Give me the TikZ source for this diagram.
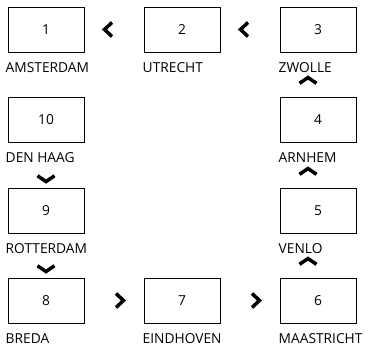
\documentclass[tikz,border=0pt]{standalone}
\usepackage{fontspec}
\setmainfont{Open Sans}
\usepackage{tikz}
\usetikzlibrary{calc, positioning}

\tikzset{
  stop/.style={draw, line width=0.9bp, minimum width=76bp, minimum height=45bp, inner sep=0pt},
  city/.style={anchor=base west, inner sep=0pt},
  chevline/.style={line width=3.5bp, line join=miter, line cap=butt},
  pics/chevh/.style={code={\draw[chevline] (-4,-7) -- (3.5,0) -- (-4,7);}},
  pics/chevv/.style={code={\draw[chevline] (-8.5,2.8) -- (0,-3) -- (8.5,2.8);}}
}

\begin{document}
\begin{tikzpicture}[x=1bp, y=-1bp, font=\fontsize{13.8}{16}\selectfont]
  \useasboundingbox (0,0) rectangle (368,347);

  % Stops along the route
  \node[stop] (b1) at (46,29.5) {1};
  \node[stop] (b2) at (182,29.5) {2};
  \node[stop] (b3) at (318,29.5) {3};
  \node[stop] (b10) at (46,119.5) {10};
  \node[stop] (b4) at (318,119.5) {4};
  \node[stop] (b9) at (46,210.5) {9};
  \node[stop] (b5) at (318,210.5) {5};
  \node[stop] (b8) at (46,300.5) {8};
  \node[stop] (b7) at (182,300.5) {7};
  \node[stop] (b6) at (318,300.5) {6};

  % City names under the boxes
  \node[city] (c1) at ($(b1.south west)+(-2,20)$) {AMSTERDAM};
  \node[city] (c2) at ($(b2.south west)+(-1,20)$) {UTRECHT};
  \node[city] (c3) at ($(b3.south west)+(-1,20)$) {ZWOLLE};
  \node[city] (c10) at ($(b10.south west)+(-2,20)$) {DEN HAAG};
  \node[city] (c4) at ($(b4.south west)+(-1,20)$) {ARNHEM};
  \node[city] (c9) at ($(b9.south west)+(-2,20)$) {ROTTERDAM};
  \node[city] (c5) at ($(b5.south west)+(-1,20)$) {VENLO};
  \node[city] (c8) at ($(b8.south west)+(-2,20)$) {BREDA};
  \node[city] (c7) at ($(b7.south west)+(-1,20)$) {EINDHOVEN};
  \node[city] (c6) at ($(b6.south west)+(-1,20)$) {MAASTRICHT};

  % Direction marks: top row goes left
  \pic[rotate=180] at ($(b1.east)!0.5!(b2.west)+(-6,0)$) {chevh};
  \pic[rotate=180] at ($(b2.east)!0.5!(b3.west)+(-6,0)$) {chevh};

  % Right column goes up
  \pic at ($(b4.north)+(-10,-16)$) {chevv};
  \pic at ($(b5.north)+(-10,-16)$) {chevv};
  \pic at ($(b6.north)+(-10,-16)$) {chevv};

  % Left column goes down
  \pic[rotate=180] at ($(b9.north)+(0,-9)$) {chevv};
  \pic[rotate=180] at ($(b8.north)+(0,-9)$) {chevv};

  % Bottom row goes right
  \pic at ($(b8.east)!0.5!(b7.west)+(6,0)$) {chevh};
  \pic at ($(b7.east)!0.5!(b6.west)+(6,0)$) {chevh};
\end{tikzpicture}
\end{document}
